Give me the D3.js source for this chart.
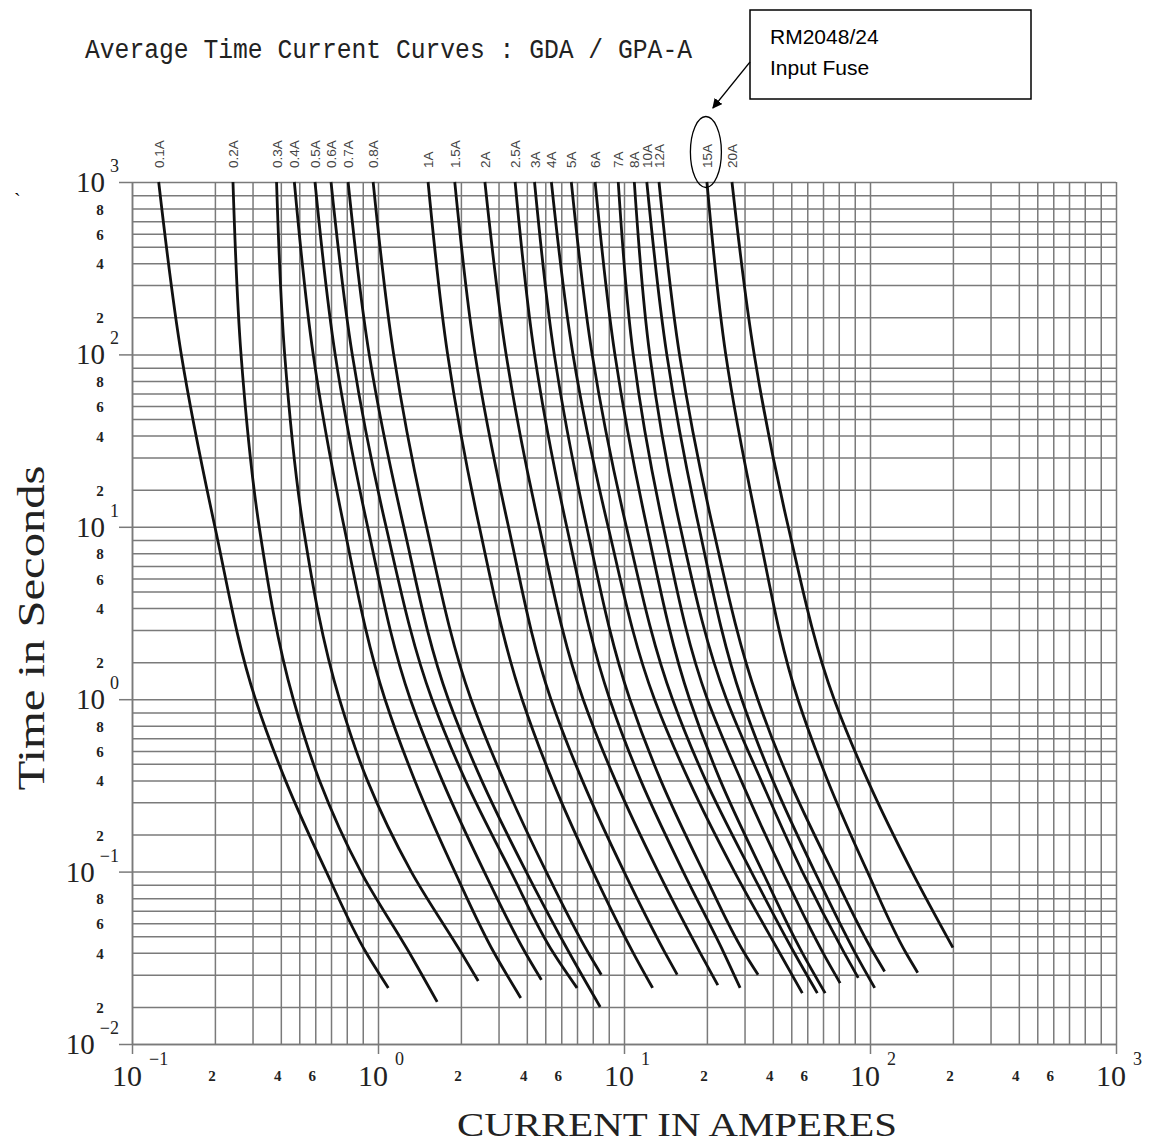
<!DOCTYPE html>
<html lang="en">
<head>
<meta charset="UTF-8">
<title>Average Time Current Curves : GDA / GPA-A</title>
<script src="https://d3js.org/d3.v7.min.js"></script>
<style>
  body { margin: 0; background: #fff; }
  svg { display: block; }
</style>
</head>
<body>
<div id="chart"></div>
<script>
// fuse ratings, left to right along the top
const fuseLabels = ["0.1A", "0.2A", "0.3A", "0.4A", "0.5A", "0.6A", "0.7A", "0.8A",
  "1A", "1.5A", "2A", "2.5A", "3A", "4A", "5A", "6A", "7A", "8A", "10A", "12A", "15A", "20A"];
const readTimes = [1000, 100, 10, 1, 0.4, 0.1, 0.04];
// current (A) of each curve at those times (null = curve already ended)
const fuseCurrents = [
  [0.125, 0.151, 0.200, 0.309, 0.423, 0.668, 0.922],
  [0.243, 0.265, 0.321, 0.465, 0.625, 0.887, 1.30],
  [0.383, 0.419, 0.523, 0.752, 0.929, 1.32, 2.01],
  [0.471, 0.586, 0.782, 1.06, 1.36, 1.90, 2.86],
  [0.598, 0.725, 0.931, 1.31, 1.71, 2.57, 3.94],
  [0.700, 0.833, 1.07, 1.57, 2.10, 3.40, 5.48],
  [0.808, 0.941, 1.24, 1.80, 2.50, 3.97, 6.49],
  [0.967, 1.14, 1.50, 2.23, 3.16, 5.05, 7.70],
  [1.52, 1.79, 2.44, 3.81, 5.42, 8.01, 10.8],
  [1.90, 2.33, 3.32, 5.33, 7.32, 10.0, 14.1],
  [2.59, 3.24, 4.65, 7.37, 9.42, 13.3, 18.9],
  [3.55, 4.39, 6.33, 9.06, 11.5, 16.4, 24.0],
  [4.39, 5.54, 7.60, 10.5, 13.6, 19.4, 29.9],
  [5.36, 6.73, 8.96, 12.9, 17.2, 26.9, 43.4],
  [6.62, 7.96, 10.2, 15.0, 19.8, 32.1, 51.7],
  [8.14, 9.39, 12.1, 17.3, 23.1, 36.0, 56.7],
  [9.61, 10.8, 13.9, 20.1, 28.9, 45.0, 70.0],
  [10.9, 12.4, 16.0, 24.7, 35.5, 56.7, 83.3],
  [12.1, 14.3, 18.7, 29.1, 40.0, 64.5, 90.2],
  [13.4, 15.9, 21.3, 34.3, 48.8, 75.8, 103],
  [20.0, 24.5, 34.3, 53.9, 72.8, 98.2, 135],
  [26.2, 33.1, 48.2, 76.9, 98.4, 142, null]
];
// last point of each curve: [current A, time s]
const fuseEnds = [
  [1.09, 0.0254], [1.64, 0.0213], [2.41, 0.0277], [3.76, 0.0224], [4.77, 0.0281],
  [7.00, 0.0254], [8.45, 0.0200], [8.52, 0.0300], [12.7, 0.0254], [15.6, 0.0300],
  [22.5, 0.0263], [28.6, 0.0254], [34.4, 0.0300], [56.7, 0.0238], [66.2, 0.0238],
  [71.3, 0.0238], [80.8, 0.0270], [92.2, 0.0288], [104, 0.0254], [113, 0.0313],
  [149, 0.0308], [200, 0.0429]
];

// axes
const xDecades = [0.1, 1, 10, 100, 1000];
const xExponents = ["\u22121", "0", "1", "2", "3"];
const xMinorLabels = [2, 4, 6];
const yDecades = [0.01, 0.1, 1, 10, 100, 1000];
const yExponents = ["\u22122", "\u22121", "0", "1", "2", "3"];
const yMinorLabels = [2, 4, 6, 8];

// where 1..9 sit inside one decade on this chart paper (it is not a true log ruling)
const xRuling = [0, 0.337, 0.49, 0.605, 0.68, 0.745, 0.809, 0.873, 0.938];
const yRuling = [0, 0.215, 0.402, 0.529, 0.625, 0.70, 0.773, 0.846, 0.923];

const width = 1151, height = 1142;
const plot = { left: 132, right: 1116, top: 182, bottom: 1044 };
const gridColor = "#7a7a7a";

function paperScale(decades, ruling, r0, r1) {
  const n = decades.length - 1;
  const dom = [], rng = [];
  decades.slice(0, -1).forEach((d, i) => {
    ruling.forEach((f, j) => {
      dom.push(d * (j + 1));
      rng.push(r0 + (r1 - r0) * (i + f) / n);
    });
  });
  dom.push(decades[n]);
  rng.push(r1);
  return d3.scaleLog().domain(dom).range(rng);
}

const x = paperScale(xDecades, xRuling, plot.left, plot.right);
const y = paperScale(yDecades, yRuling, plot.bottom, plot.top);

const svg = d3.select("#chart").append("svg")
  .attr("width", width)
  .attr("height", height)
  .style("background", "#fff");

// grid
svg.append("g")
  .attr("transform", `translate(0,${plot.bottom})`)
  .attr("color", gridColor)
  .call(d3.axisBottom(x).tickValues(x.domain()).tickSize(-(plot.bottom - plot.top)).tickSizeOuter(0).tickFormat(""))
  .call(g => g.selectAll("line, path").attr("stroke-width", 1.5));

svg.append("g")
  .attr("transform", `translate(${plot.left},0)`)
  .attr("color", gridColor)
  .call(d3.axisLeft(y).tickValues(y.domain()).tickSize(-(plot.right - plot.left)).tickSizeOuter(0).tickFormat(""))
  .call(g => g.selectAll("line, path").attr("stroke-width", 1.5));

// decade ticks sticking out of the frame
svg.append("g")
  .attr("transform", `translate(0,${plot.bottom})`)
  .attr("color", gridColor)
  .call(d3.axisBottom(x).tickValues(xDecades).tickSize(10).tickFormat(""))
  .call(g => g.select(".domain").remove())
  .call(g => g.selectAll("line").attr("stroke-width", 1.5));

svg.append("g")
  .attr("transform", `translate(${plot.left},0)`)
  .attr("color", gridColor)
  .call(d3.axisLeft(y).tickValues(yDecades).tickSize(13).tickFormat(""))
  .call(g => g.select(".domain").remove())
  .call(g => g.selectAll("line").attr("stroke-width", 1.5));

// tick labels
const serif = "'Liberation Serif', 'DejaVu Serif', serif";

const xl = svg.append("g").attr("font-family", serif).attr("fill", "#222");
xDecades.forEach((d, i) => {
  xl.append("text")
    .attr("x", x(d) - 5)
    .attr("y", plot.bottom + 42)
    .attr("text-anchor", "middle")
    .attr("font-size", 30)
    .text("10");
  xl.append("text")
    .attr("x", x(d) + 17)
    .attr("y", plot.bottom + 21)
    .attr("font-size", 18)
    .text(xExponents[i]);
});
xDecades.slice(0, -1).forEach(d => {
  xMinorLabels.forEach(m => {
    xl.append("text")
      .attr("x", x(d * m) - 3)
      .attr("y", plot.bottom + 37)
      .attr("text-anchor", "middle")
      .attr("font-size", 15)
      .attr("font-weight", "bold")
      .text(m);
  });
});

const yl = svg.append("g").attr("font-family", serif).attr("fill", "#222");
yDecades.forEach((d, i) => {
  const g = yl.append("text")
    .attr("x", 119)
    .attr("y", y(d) + 10)
    .attr("text-anchor", "end")
    .attr("font-size", 29);
  g.append("tspan").text("10");
  g.append("tspan")
    .attr("dx", 5)
    .attr("dy", -20)
    .attr("font-size", 18)
    .text(yExponents[i]);
});
yDecades.slice(0, -1).forEach(d => {
  yMinorLabels.forEach(m => {
    yl.append("text")
      .attr("x", 100)
      .attr("y", y(d * m) + 6)
      .attr("text-anchor", "middle")
      .attr("font-size", 15)
      .attr("font-weight", "bold")
      .text(m);
  });
});

// curves
const line = d3.line()
  .x(d => x(d[0]))
  .y(d => y(d[1]))
  .curve(d3.curveMonotoneY);

const curves = svg.append("g")
  .attr("fill", "none")
  .attr("stroke", "#111")
  .attr("stroke-width", 2.8);

fuseLabels.forEach((name, i) => {
  const pts = readTimes
    .map((t, j) => [fuseCurrents[i][j], t])
    .filter(p => p[0] != null);
  pts.push(fuseEnds[i]);
  curves.append("path").attr("d", line(pts));
});

// fuse labels along the top
svg.append("g")
  .attr("font-family", "'Liberation Sans', Arial, sans-serif")
  .attr("font-size", 13.5)
  .attr("fill", "#444")
  .selectAll("text")
  .data(fuseLabels)
  .join("text")
  .attr("transform", (d, i) => `translate(${x(fuseCurrents[i][0]) + 5},${plot.top - 14}) rotate(-90)`)
  .text(d => d);

// titles
svg.append("text")
  .attr("x", 85)
  .attr("y", 58)
  .attr("font-family", "'Liberation Mono', 'DejaVu Sans Mono', monospace")
  .attr("font-size", 27)
  .attr("textLength", 607)
  .attr("lengthAdjust", "spacingAndGlyphs")
  .attr("fill", "#222")
  .text("Average Time Current Curves : GDA / GPA-A");

svg.append("text")
  .attr("transform", `translate(44,${(plot.top + plot.bottom) / 2 + 15}) rotate(-90)`)
  .attr("text-anchor", "middle")
  .attr("font-family", serif)
  .attr("font-size", 38)
  .attr("textLength", 325)
  .attr("lengthAdjust", "spacingAndGlyphs")
  .attr("fill", "#222")
  .text("Time in Seconds");

svg.append("text")
  .attr("x", 677)
  .attr("y", 1136)
  .attr("text-anchor", "middle")
  .attr("font-family", serif)
  .attr("font-size", 34)
  .attr("textLength", 440)
  .attr("lengthAdjust", "spacingAndGlyphs")
  .attr("fill", "#222")
  .text("CURRENT IN AMPERES");

svg.append("text")
  .attr("x", 14)
  .attr("y", 208)
  .attr("font-family", serif)
  .attr("font-size", 20)
  .text("`");

// callout for the 15A curve
const i15 = fuseLabels.indexOf("15A");
const cx15 = x(fuseCurrents[i15][0]) - 1;

svg.append("defs").append("marker")
  .attr("id", "arrow")
  .attr("viewBox", "0 0 10 10")
  .attr("refX", 9).attr("refY", 5)
  .attr("markerWidth", 10).attr("markerHeight", 10)
  .attr("markerUnits", "userSpaceOnUse")
  .attr("orient", "auto")
  .append("path").attr("d", "M0,0 L10,5 L0,10 z").attr("fill", "#000");

svg.append("ellipse")
  .attr("cx", cx15)
  .attr("cy", 152)
  .attr("rx", 15.5)
  .attr("ry", 35.5)
  .attr("fill", "none")
  .attr("stroke", "#000")
  .attr("stroke-width", 1.3);

svg.append("rect")
  .attr("x", 750).attr("y", 10)
  .attr("width", 281).attr("height", 89)
  .attr("fill", "#fff")
  .attr("stroke", "#000")
  .attr("stroke-width", 1.5);

svg.append("line")
  .attr("x1", 750).attr("y1", 62)
  .attr("x2", cx15 + 7).attr("y2", 108)
  .attr("stroke", "#000")
  .attr("stroke-width", 1.2)
  .attr("marker-end", "url(#arrow)");

const callout = svg.append("text")
  .attr("font-family", "'Liberation Sans', Arial, sans-serif")
  .attr("font-size", 21)
  .attr("fill", "#000");
callout.append("tspan").attr("x", 770).attr("y", 44).text("RM2048/24");
callout.append("tspan").attr("x", 770).attr("y", 75).text("Input Fuse");
</script>
</body>
</html>
